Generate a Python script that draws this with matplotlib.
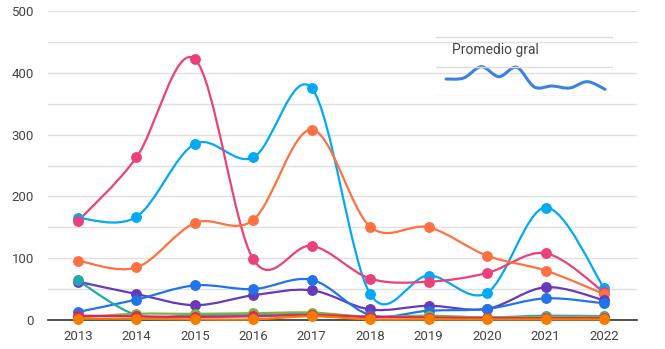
import numpy as np
import matplotlib
matplotlib.use("Agg")
import matplotlib.pyplot as plt
from matplotlib.path import Path
from matplotlib.patches import PathPatch

plt.rcParams['font.family'] = ['Roboto', 'DejaVu Sans']

# datos
anios = [2013, 2014, 2015, 2016, 2017, 2018, 2019, 2020, 2021, 2022]

celeste = [165, 167, 285, 263, 375, 42, 72, 44, 182, 52]
rosa = [160, 263, 422, 98, 120, 67, 62, 76, 108, 45]
naranja = [96, 85, 157, 162, 308, 151, 150, 104, 80, 42]
violeta = [62, 42, 24, 40, 48, 17, 23, 18, 53, 32]
azul = [13, 33, 56, 50, 65, 8, 15, 18, 35, 27]
turquesa = [64, 8, 8, 8, 10, 5, 6, 4, 7, 6]
verde = [4, 10, 10, 11, 12, 5, 7, 4, 5, 5]
rojo = [7, 6, 5, 6, 8, 5, 4, 3, 3, 3]
naranja_osc = [2, 2, 1, 1, 6, 1, 1, 1, 1, 1]

promedio = [17, 18, 29.3, 19.3, 28.7, 9, 10, 8, 14.3, 6.7]

series = [
    (celeste, "#03a9f4"),
    (rosa, "#ec407a"),
    (naranja, "#ff7043"),
    (violeta, "#673ab7"),
    (azul, "#2174e8"),
    (turquesa, "#22a7b5"),
    (verde, "#7cb342"),
    (rojo, "#e91e63"),
    (naranja_osc, "#f57c00"),
]


def curva_suave(x, y):
    # spline tipo Catmull-Rom como curveType 'function'
    x = np.asarray(x, float)
    y = np.asarray(y, float)
    n = len(x)
    verts = [(x[0], y[0])]
    codes = [Path.MOVETO]
    for i in range(n - 1):
        p0 = (x[max(i - 1, 0)], y[max(i - 1, 0)])
        p1 = (x[i], y[i])
        p2 = (x[i + 1], y[i + 1])
        p3 = (x[min(i + 2, n - 1)], y[min(i + 2, n - 1)])
        c1 = (p1[0] + (p2[0] - p0[0]) / 6, p1[1] + (p2[1] - p0[1]) / 6)
        c2 = (p2[0] - (p3[0] - p1[0]) / 6, p2[1] - (p3[1] - p1[1]) / 6)
        verts += [c1, c2, p2]
        codes += [Path.CURVE4] * 3
    return Path(verts, codes)


fig = plt.figure(figsize=(6.65, 3.49), dpi=100)
ax = fig.add_axes([48 / 665, 1 - 320 / 349, 589 / 665, 309 / 349])

ax.set_xlim(2012.487, 2022.565)
ax.set_ylim(0, 500)
ax.set_yticks(range(0, 501, 100))
ax.set_yticks(range(50, 500, 100), minor=True)
ax.set_xticks(anios)
ax.grid(axis='y', which='both', color='#e0e0e0', linewidth=1)
ax.set_axisbelow(True)
for s in ['top', 'right', 'left']:
    ax.spines[s].set_visible(False)
ax.spines['bottom'].set_color('#333333')
ax.spines['bottom'].set_linewidth(1.2)
ax.spines['bottom'].set_zorder(1.5)
ax.tick_params(axis='both', which='both', length=0, labelsize=9.5, colors='#444444')
ax.tick_params(axis='x', pad=7)
ax.tick_params(axis='y', pad=10)

for valores, color in series:
    ax.add_patch(PathPatch(curva_suave(anios, valores), facecolor='none',
                           edgecolor=color, linewidth=1.6, clip_on=False, zorder=2))
    ax.plot(anios, valores, 'o', color=color, markersize=6.8, clip_on=False, zorder=3)

# recuadro "Promedio gral"
ins = fig.add_axes([436 / 665, 1 - 96 / 349, 177 / 665, 60 / 349])
ins.set_xlim(-0.566, 9.45)
ins.set_ylim(0, 60)
ins.axis('off')
for yy in [0.3, 29.3, 59.3]:
    ins.axhline(yy, color='#dcdcdc', linewidth=1)
ins.text(0.09, 0.77, "Promedio gral", transform=ins.transAxes, fontsize=10,
         color='#444444', va='center', ha='left')
ins.add_patch(PathPatch(curva_suave(range(len(promedio)), promedio), facecolor='none',
                        edgecolor='#3b82e0', linewidth=2.2, capstyle='round'))

fig.savefig("out.png", dpi=100)
